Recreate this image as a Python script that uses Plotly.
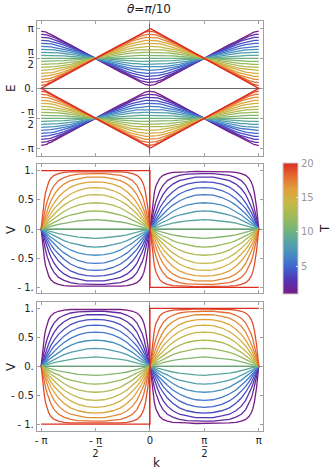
import plotly.graph_objects as go
from plotly.colors import sample_colorscale

# k in units of pi, first quarter of the zone (0 .. pi/2)
k_quarter = [0, 0.005, 0.01, 0.02, 0.03, 0.04, 0.055, 0.07, 0.09, 0.12, 0.16, 0.21, 0.27, 0.34, 0.42, 0.5]
t_values = list(range(1, 21))

# upper band E/pi on k_quarter, one row per T
e_quarter = [
    [0.05, 0.05, 0.05, 0.05, 0.06, 0.06, 0.07, 0.09, 0.10, 0.13, 0.17, 0.22, 0.27, 0.34, 0.42, 0.50],
    [0.10, 0.10, 0.10, 0.10, 0.10, 0.11, 0.11, 0.12, 0.13, 0.15, 0.19, 0.23, 0.28, 0.35, 0.42, 0.50],
    [0.15, 0.15, 0.15, 0.15, 0.15, 0.15, 0.16, 0.16, 0.17, 0.19, 0.21, 0.25, 0.30, 0.36, 0.43, 0.50],
    [0.20, 0.20, 0.20, 0.20, 0.20, 0.20, 0.21, 0.21, 0.22, 0.23, 0.25, 0.28, 0.32, 0.37, 0.44, 0.50],
    [0.25, 0.25, 0.25, 0.25, 0.25, 0.25, 0.25, 0.26, 0.26, 0.27, 0.29, 0.31, 0.35, 0.39, 0.44, 0.50],
    [0.30, 0.30, 0.30, 0.30, 0.30, 0.30, 0.30, 0.31, 0.31, 0.32, 0.33, 0.35, 0.37, 0.41, 0.45, 0.50],
    [0.35, 0.35, 0.35, 0.35, 0.35, 0.35, 0.35, 0.35, 0.36, 0.36, 0.37, 0.38, 0.40, 0.43, 0.46, 0.50],
    [0.40, 0.40, 0.40, 0.40, 0.40, 0.40, 0.40, 0.40, 0.40, 0.41, 0.41, 0.42, 0.43, 0.45, 0.48, 0.50],
    [0.45, 0.45, 0.45, 0.45, 0.45, 0.45, 0.45, 0.45, 0.45, 0.45, 0.46, 0.46, 0.47, 0.48, 0.49, 0.50],
    [0.50, 0.50, 0.50, 0.50, 0.50, 0.50, 0.50, 0.50, 0.50, 0.50, 0.50, 0.50, 0.50, 0.50, 0.50, 0.50],
    [0.55, 0.55, 0.55, 0.55, 0.55, 0.55, 0.55, 0.55, 0.55, 0.55, 0.54, 0.54, 0.53, 0.52, 0.51, 0.50],
    [0.60, 0.60, 0.60, 0.60, 0.60, 0.60, 0.60, 0.60, 0.60, 0.59, 0.59, 0.58, 0.57, 0.55, 0.52, 0.50],
    [0.65, 0.65, 0.65, 0.65, 0.65, 0.65, 0.65, 0.65, 0.64, 0.64, 0.63, 0.62, 0.60, 0.57, 0.54, 0.50],
    [0.70, 0.70, 0.70, 0.70, 0.70, 0.70, 0.70, 0.69, 0.69, 0.68, 0.67, 0.65, 0.63, 0.59, 0.55, 0.50],
    [0.75, 0.75, 0.75, 0.75, 0.75, 0.75, 0.75, 0.74, 0.74, 0.73, 0.71, 0.69, 0.65, 0.61, 0.56, 0.50],
    [0.80, 0.80, 0.80, 0.80, 0.80, 0.80, 0.79, 0.79, 0.78, 0.77, 0.75, 0.72, 0.68, 0.63, 0.56, 0.50],
    [0.85, 0.85, 0.85, 0.85, 0.85, 0.85, 0.84, 0.84, 0.83, 0.81, 0.79, 0.75, 0.70, 0.64, 0.57, 0.50],
    [0.90, 0.90, 0.90, 0.90, 0.90, 0.89, 0.89, 0.88, 0.87, 0.85, 0.81, 0.77, 0.72, 0.65, 0.58, 0.50],
    [0.95, 0.95, 0.95, 0.95, 0.94, 0.94, 0.93, 0.91, 0.90, 0.87, 0.83, 0.78, 0.73, 0.66, 0.58, 0.50],
    [1.00, 0.995, 0.99, 0.98, 0.97, 0.96, 0.945, 0.93, 0.91, 0.88, 0.84, 0.79, 0.73, 0.66, 0.58, 0.50],
]

# velocity V on k_quarter (k > 0 side), one row per T
v_quarter = [
    [0.00, 0.10, 0.19, 0.37, 0.51, 0.62, 0.74, 0.81, 0.87, 0.92, 0.95, 0.97, 0.98, 0.98, 0.99, 0.99],
    [0.00, 0.05, 0.10, 0.19, 0.28, 0.36, 0.47, 0.56, 0.65, 0.75, 0.83, 0.88, 0.92, 0.94, 0.95, 0.95],
    [0.00, 0.03, 0.06, 0.12, 0.18, 0.24, 0.32, 0.39, 0.48, 0.59, 0.69, 0.77, 0.83, 0.86, 0.89, 0.89],
    [0.00, 0.02, 0.04, 0.09, 0.13, 0.17, 0.23, 0.29, 0.36, 0.45, 0.55, 0.64, 0.72, 0.77, 0.80, 0.81],
    [0.00, 0.02, 0.03, 0.06, 0.09, 0.12, 0.17, 0.21, 0.27, 0.35, 0.43, 0.52, 0.60, 0.66, 0.70, 0.71],
    [0.00, 0.01, 0.02, 0.05, 0.07, 0.09, 0.12, 0.16, 0.20, 0.26, 0.33, 0.41, 0.48, 0.54, 0.58, 0.59],
    [0.00, 0.01, 0.02, 0.03, 0.05, 0.06, 0.09, 0.11, 0.14, 0.18, 0.24, 0.30, 0.36, 0.41, 0.44, 0.45],
    [0.00, 0.01, 0.01, 0.02, 0.03, 0.04, 0.06, 0.07, 0.09, 0.12, 0.15, 0.20, 0.24, 0.27, 0.30, 0.31],
    [0.00, 0.00, 0.00, 0.01, 0.01, 0.02, 0.03, 0.03, 0.04, 0.06, 0.08, 0.10, 0.12, 0.14, 0.15, 0.16],
    [0.00, 0.00, 0.00, 0.00, 0.00, 0.00, 0.00, 0.00, 0.00, 0.00, 0.00, 0.00, 0.00, 0.00, 0.00, 0.00],
    [0.00, 0.00, 0.00, -0.01, -0.01, -0.02, -0.03, -0.03, -0.04, -0.06, -0.08, -0.10, -0.12, -0.14, -0.15, -0.16],
    [0.00, -0.01, -0.01, -0.02, -0.03, -0.04, -0.06, -0.07, -0.09, -0.12, -0.15, -0.20, -0.24, -0.27, -0.30, -0.31],
    [0.00, -0.01, -0.02, -0.03, -0.05, -0.06, -0.09, -0.11, -0.14, -0.18, -0.24, -0.30, -0.36, -0.41, -0.44, -0.45],
    [0.00, -0.01, -0.02, -0.05, -0.07, -0.09, -0.12, -0.16, -0.20, -0.26, -0.33, -0.41, -0.48, -0.54, -0.58, -0.59],
    [0.00, -0.02, -0.03, -0.06, -0.09, -0.12, -0.17, -0.21, -0.27, -0.35, -0.43, -0.52, -0.60, -0.66, -0.70, -0.71],
    [0.00, -0.02, -0.04, -0.09, -0.13, -0.17, -0.23, -0.29, -0.36, -0.45, -0.55, -0.64, -0.72, -0.77, -0.80, -0.81],
    [0.00, -0.03, -0.06, -0.12, -0.18, -0.24, -0.32, -0.39, -0.48, -0.59, -0.69, -0.77, -0.83, -0.86, -0.89, -0.89],
    [0.00, -0.05, -0.10, -0.19, -0.28, -0.36, -0.47, -0.56, -0.65, -0.75, -0.83, -0.88, -0.92, -0.94, -0.95, -0.95],
    [0.00, -0.10, -0.19, -0.37, -0.51, -0.62, -0.74, -0.81, -0.87, -0.92, -0.95, -0.97, -0.98, -0.98, -0.99, -0.99],
    [-1.00, -1.00, -1.00, -1.00, -1.00, -1.00, -1.00, -1.00, -1.00, -1.00, -1.00, -1.00, -1.00, -1.00, -1.00, -1.00],
]

frac = "π\u0332<br>2"
pi_ticks = [-1, -0.5, 0, 0.5, 1]
pi_text = ['- π', '- ' + frac, '0', frac, 'π']
e_text = ['- π', '- ' + frac, '0.', frac, 'π']
v_ticks = [-1, -0.5, 0, 0.5, 1]
v_text = ['- 1.', '- 0.5', '0.', '0.5', '1.']

rainbow = [
    [0.0, '#781c86'], [0.1, '#5532b0'], [0.2, '#3f62cf'], [0.32, '#4892bf'],
    [0.42, '#5ba89a'], [0.5, '#7ab575'], [0.6, '#a1ba57'], [0.7, '#c9b745'],
    [0.8, '#e0a03b'], [0.9, '#e46b31'], [1.0, '#db2d21'],
]
colors = sample_colorscale(rainbow, [(t - 1) / 19 for t in t_values])


def unfold_v(q):
    # V(pi-k) = V(k), V(-k) = -V(k)
    xr = k_quarter + [1 - k for k in k_quarter[-2::-1]]
    yr = q + q[-2::-1]
    xl = [-x for x in xr[::-1]]
    yl = [-y for y in yr[::-1]]
    return xl + xr, yl + yr


def unfold_e(q):
    # E(pi-k) = pi - E(k), E(-k) = E(k)
    xr = k_quarter + [1 - k for k in k_quarter[-2::-1]]
    yr = q + [1 - e for e in q[-2::-1]]
    xl = [-x for x in xr[::-1]]
    return xl + xr, yr[::-1] + yr


fig = go.Figure()
line_w = 1.3
for t, col, eq, vq in zip(t_values, colors, e_quarter, v_quarter):
    x, y = unfold_e(eq)
    fig.add_trace(go.Scatter(x=x, y=y, mode='lines', line=dict(color=col, width=line_w),
                             xaxis='x', yaxis='y', showlegend=False))
    fig.add_trace(go.Scatter(x=x, y=[-v for v in y], mode='lines', line=dict(color=col, width=line_w),
                             xaxis='x', yaxis='y', showlegend=False))
    x, y = unfold_v(vq)
    fig.add_trace(go.Scatter(x=x, y=y, mode='lines', line=dict(color=col, width=line_w),
                             xaxis='x2', yaxis='y2', showlegend=False))
    fig.add_trace(go.Scatter(x=x, y=[-v for v in y], mode='lines', line=dict(color=col, width=line_w),
                             xaxis='x3', yaxis='y3', showlegend=False))

# colour bar for T
fig.add_trace(go.Scatter(
    x=[None, None], y=[None, None], mode='markers', xaxis='x2', yaxis='y2', showlegend=False,
    marker=dict(color=[1, 20], cmin=1, cmax=20, colorscale=rainbow, showscale=True,
                colorbar=dict(x=283 / 332, xanchor='left', xpad=0, ypad=0,
                              y=1 - 228.5 / 470, yanchor='middle', len=131 / 470,
                              thickness=15, outlinecolor='#cccccc', outlinewidth=1,
                              tickvals=[5, 10, 15, 20], ticks='inside', ticklen=2,
                              tickcolor='#dddddd',
                              tickfont=dict(size=10, color='#999999')))))

frame = dict(showline=True, mirror='ticks', linecolor='#a0a0a0', linewidth=1,
             ticks='inside', ticklen=3, tickcolor='#a0a0a0', showgrid=False,
             zeroline=True, zerolinecolor='#666666', zerolinewidth=1,
             tickfont=dict(size=10, color='#222222'))
xdom = [35 / 332, 263 / 332]
xr = [-1.04, 1.043]


def label(text, px, py, angle=0):
    return dict(text=text, x=px / 332, y=1 - py / 470, xref='paper', yref='paper',
                xanchor='center', yanchor='middle', textangle=angle,
                showarrow=False, font=dict(size=12))


fig.update_layout(
    width=332, height=470, autosize=False,
    margin=dict(l=0, r=0, t=0, b=0),
    paper_bgcolor='white', plot_bgcolor='white',
    font=dict(family='DejaVu Sans', color='#222222'),
    xaxis=dict(frame, domain=xdom, range=xr, anchor='y', tickvals=pi_ticks, showticklabels=False),
    yaxis=dict(frame, domain=[1 - 156 / 470, 1 - 21 / 470], range=[-1.128, 1.122], anchor='x',
               tickvals=pi_ticks, ticktext=e_text),
    xaxis2=dict(frame, domain=xdom, range=xr, anchor='y2', tickvals=pi_ticks, showticklabels=False),
    yaxis2=dict(frame, domain=[1 - 293 / 470, 1 - 164 / 470], range=[-1.098, 1.115], anchor='x2',
                tickvals=v_ticks, ticktext=v_text),
    xaxis3=dict(frame, domain=xdom, range=xr, anchor='y3', tickvals=pi_ticks, ticktext=pi_text),
    yaxis3=dict(frame, domain=[1 - 431 / 470, 1 - 302 / 470], range=[-1.12, 1.11], anchor='x3',
                tickvals=v_ticks, ticktext=v_text),
    annotations=[
        label('<i>θ</i>=<i>π</i>/10', 148, 9),
        label('E', 9, 88, -90),
        label('V', 9, 229, -90),
        label('V', 9, 366, -90),
        label('k', 155, 463),
        label('T', 325, 229, -90),
    ],
)

fig.write_html("out.html", config={'displayModeBar': False},
               post_script="document.body.style.margin='0';")
